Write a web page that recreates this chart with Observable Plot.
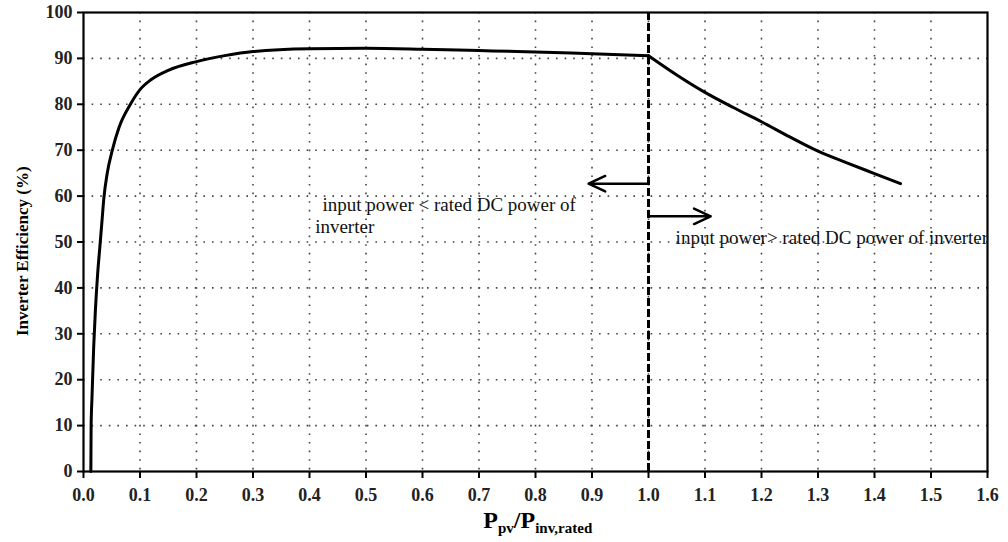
<!DOCTYPE html>
<html>
<head>
<meta charset="utf-8">
<script src="https://cdn.jsdelivr.net/npm/d3@7"></script>
<script src="https://cdn.jsdelivr.net/npm/@observablehq/plot@0.6"></script>
<style>
  html, body { margin: 0; padding: 0; background: #fff; }
  #chart { width: 1008px; height: 542px; }
</style>
</head>
<body>
<div id="chart"></div>
<script>
// Inverter efficiency curve
const ratio = [0.013, 0.0135, 0.015, 0.018, 0.021, 0.025, 0.029, 0.033, 0.036, 0.042, 0.051, 0.063, 0.083, 0.1, 0.12, 0.15, 0.2, 0.25, 0.3, 0.4, 0.5, 0.6, 0.7, 0.8, 0.9, 1.0, 1.05, 1.1, 1.15, 1.2, 1.25, 1.3, 1.35, 1.4, 1.446];
const efficiency = [0, 10, 16, 27, 35, 43, 49, 55, 59.5, 65, 70, 75, 80, 83.2, 85.4, 87.4, 89.3, 90.6, 91.5, 92.1, 92.2, 92.0, 91.7, 91.4, 91.0, 90.6, 86.4, 82.6, 79.3, 76.2, 72.9, 69.8, 67.3, 64.9, 62.7];

// Rated-power marker
const ratedRatio = [1.0];

// Annotation arrows
const arrowFrom = [1.0, 1.0];
const arrowTo = [0.894, 1.11];
const arrowLevel = [62.7, 55.6];

// Annotation texts
const noteText = ["input power < rated DC power of", "inverter", "input power> rated DC power of inverter"];
const noteX = [0.423, 0.41, 1.048];
const noteY = [58.0, 53.2, 51.0];

// Axis ticks
const xTicks = d3.range(0, 17).map(i => i / 10);
const yTicks = d3.range(0, 11).map(i => i * 10);
const xGrid = d3.range(1, 16).map(i => i / 10);
const yGrid = d3.range(1, 10).map(i => i * 10);

// two segments of the curve meeting at the rated point
const curve = [];
ratio.forEach((r, i) => {
  if (r <= 1.0) curve.push({r, e: efficiency[i], seg: "below"});
  if (r >= 1.0) curve.push({r, e: efficiency[i], seg: "above"});
});
const arrows = arrowFrom.map((a, i) => ({x1: a, x2: arrowTo[i], y: arrowLevel[i]}));
const notes = noteText.map((t, i) => ({t, x: noteX[i], y: noteY[i]}));

const chart = Plot.plot({
  width: 1008,
  height: 542,
  marginLeft: 83,
  marginRight: 21,
  marginTop: 12,
  marginBottom: 71,
  style: {fontFamily: "Liberation Serif", fontSize: "18px", fontWeight: "bold", color: "black", background: "white"},
  x: {domain: [0, 1.6]},
  y: {domain: [0, 100]},
  marks: [
    Plot.gridX(xGrid, {stroke: "#444", strokeOpacity: 1, strokeWidth: 1.6, strokeDasharray: "1.6,7"}),
    Plot.gridY(yGrid, {stroke: "#444", strokeOpacity: 1, strokeWidth: 1.6, strokeDasharray: "1.6,7"}),
    Plot.axisX({ticks: xTicks, tickFormat: d => d.toFixed(1), tickSize: 7, tickPadding: 10, label: null, strokeWidth: 2, fontSize: 18, fill: "#222"}),
    Plot.axisY({ticks: yTicks, tickSize: 6, tickPadding: 5, label: null, strokeWidth: 2, fontSize: 18, fill: "#222"}),
    Plot.frame({strokeWidth: 2.2}),
    Plot.ruleX(ratedRatio, {strokeWidth: 3, strokeDasharray: "8,3"}),
    Plot.line(curve, {x: "r", y: "e", z: "seg", strokeWidth: 3, curve: "monotone-x"}),
    Plot.arrow(arrows, {x1: "x1", x2: "x2", y1: "y", y2: "y", strokeWidth: 2.5, headLength: 11, headAngle: 50}),
    Plot.text(notes, {x: "x", y: "y", text: "t", textAnchor: "start", fontSize: 19, fontWeight: "normal", fill: "#111"}),
    Plot.text(["Inverter Efficiency (%)"], {x: 0, y: 48, dx: -61, rotate: -90, fontSize: 17, fontWeight: "bold"})
  ]
});

document.getElementById("chart").appendChild(chart);

// x-axis label with subscripts
const svg = d3.select(chart.tagName.toLowerCase() === "svg" ? chart : chart.querySelector("svg"));
const xs = chart.scale("x");
const lbl = svg.append("text")
  .attr("x", xs.apply(0.805))
  .attr("y", 528)
  .attr("text-anchor", "middle")
  .attr("font-family", "Liberation Serif")
  .attr("font-weight", "bold")
  .attr("font-size", 24)
  .attr("fill", "black");
lbl.append("tspan").text("P");
lbl.append("tspan").attr("font-size", 15).attr("dy", 5).text("pv");
lbl.append("tspan").attr("dy", -5).text("/P");
lbl.append("tspan").attr("font-size", 15).attr("dy", 5).text("inv,rated");
</script>
</body>
</html>
